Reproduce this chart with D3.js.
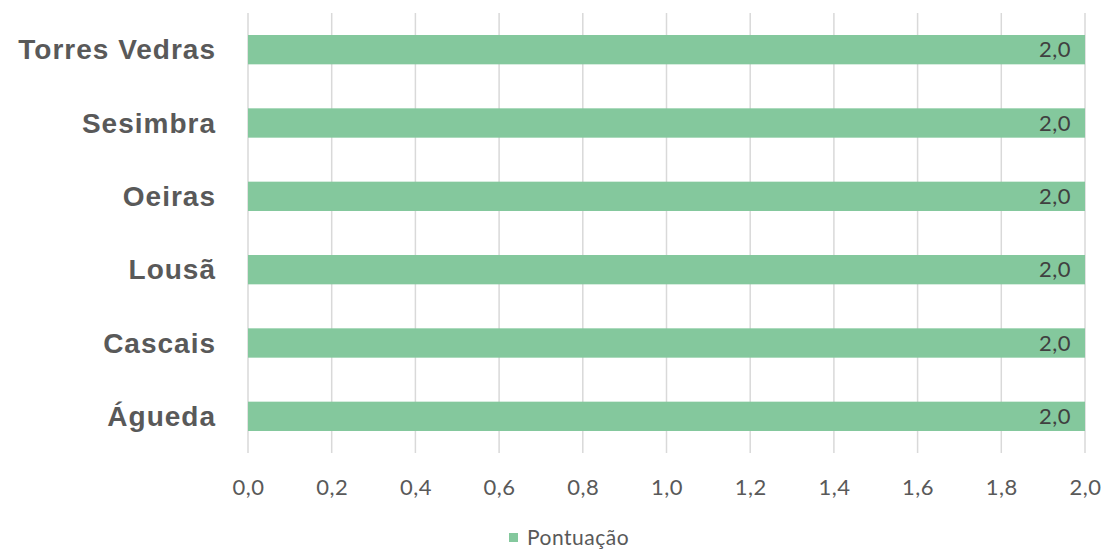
<!DOCTYPE html>
<html><head><meta charset="utf-8">
<script src="https://cdn.jsdelivr.net/npm/d3@7"></script>
<style>body{margin:0;background:#fff;} svg{display:block;}</style>
</head><body><svg id="c" width="1107" height="550"></svg>
<script>
const categories = ["Torres Vedras","Sesimbra","Oeiras","Lousã","Cascais","Águeda"];
const values = [2.0,2.0,2.0,2.0,2.0,2.0];
const ticks = [0,0.2,0.4,0.6,0.8,1.0,1.2,1.4,1.6,1.8,2.0];
const seriesName = "Pontuação";

const svg = d3.select("#c");
const fmt = v => d3.format(".1f")(v).replace(".", ",");
const x = d3.scaleLinear().domain([0,2]).range([248,1085]);
const y = d3.scaleBand().domain(categories).range([13,453]).paddingInner(0.6).paddingOuter(0.3);
const col = "#84C89D";
const lato = "Lato, 'Open Sans', sans-serif";

// gridlines
svg.append("g").selectAll("line").data(ticks).join("line")
  .attr("x1",d=>x(d)).attr("x2",d=>x(d)).attr("y1",13).attr("y2",453)
  .attr("stroke","#d9d9d9").attr("stroke-width",1.5);

// bars
svg.append("g").selectAll("rect").data(categories).join("rect")
  .attr("x",x(0)).attr("y",d=>y(d)).attr("height",y.bandwidth())
  .attr("width",(d,i)=>x(values[i])-x(0)).attr("fill",col);

// data labels
svg.append("g").selectAll("text").data(categories).join("text")
  .attr("x",(d,i)=>x(values[i])-14).attr("y",d=>y(d)+y.bandwidth()/2)
  .attr("dy","0.35em").attr("text-anchor","end")
  .attr("font-family",lato).attr("font-size",22).attr("letter-spacing",0.5)
  .attr("fill","#404040").text((d,i)=>fmt(values[i]));

// category labels
svg.append("g").selectAll("text").data(categories).join("text")
  .attr("x",216).attr("y",d=>y(d)+y.bandwidth()/2)
  .attr("dy","0.35em").attr("text-anchor","end")
  .attr("font-family","'Liberation Sans', Arial, sans-serif").attr("font-weight","bold")
  .attr("font-size",28).attr("letter-spacing",1).attr("fill","#595959").text(d=>d);

// x axis tick labels
const xa = d3.axisBottom(x).tickValues(ticks).tickFormat(fmt).tickSize(0).tickPadding(0);
const gx = svg.append("g").attr("transform","translate(0,487)").call(xa);
gx.select(".domain").remove();
gx.selectAll("text").attr("font-family",lato).attr("font-size",22).attr("letter-spacing",0.5)
  .attr("fill","#595959").attr("dy","0.35em");

// legend
const lg = svg.append("g");
lg.append("rect").attr("x",509).attr("y",533).attr("width",9).attr("height",9).attr("fill",col);
lg.append("text").attr("x",527).attr("y",538).attr("dy","0.35em")
  .attr("font-family",lato).attr("font-size",21).attr("letter-spacing",0.5)
  .attr("fill","#595959").text(seriesName);
</script></body></html>
